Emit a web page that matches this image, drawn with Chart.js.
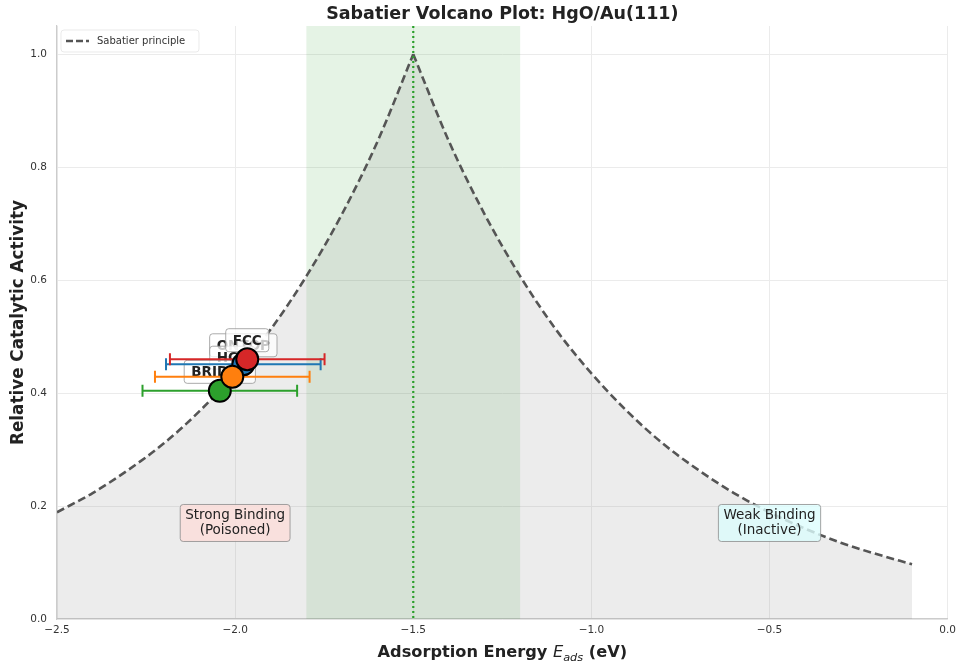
<!DOCTYPE html>
<html>
<head>
<meta charset="utf-8">
<script src="https://cdn.jsdelivr.net/npm/chart.js@4"></script>
<style>
  html, body { margin: 0; padding: 0; background: #fff; }
  canvas { display: block; }
</style>
</head>
<body>
<canvas id="volcano" width="961" height="666"></canvas>
<script>
/* ── data ──────────────────────────────────────────────── */
const energyLeft    = [-2.5, -2.4, -2.3, -2.2, -2.1, -2.0, -1.9, -1.8, -1.7, -1.6, -1.5];
const activityLeft  = [0.189, 0.223, 0.264, 0.311, 0.368, 0.435, 0.513, 0.607, 0.717, 0.846, 1.0];
const energyRight   = [-1.5, -1.4, -1.3, -1.2, -1.1, -1.0, -0.9, -0.8, -0.7, -0.6, -0.5, -0.4, -0.3, -0.2, -0.1];
const activityRight = [1.0, 0.846, 0.717, 0.607, 0.513, 0.435, 0.368, 0.311, 0.264, 0.223, 0.189, 0.160, 0.135, 0.115, 0.097];

const sites        = ['ONTOP', 'HCP', 'BRIDGE', 'FCC'];
const siteEnergy   = [-1.977, -2.008, -2.043, -1.966];
const siteActivity = [0.451, 0.429, 0.404, 0.460];
const siteError    = [0.217, 0.217, 0.217, 0.217];
const siteColors   = ['#1f77b4', '#ff7f0e', '#2ca02c', '#d62728'];
const siteOrder    = [4, 2, 3, 1];          // lower = drawn later (on top)

const optimalRange = [-1.8, -1.2];
const peakEnergy   = -1.5;

const xTicks = [-2.5, -2.0, -1.5, -1.0, -0.5, 0.0];
const yTicks = [0.0, 0.2, 0.4, 0.6, 0.8, 1.0];

const regions = [
  { lines: ['Strong Binding', '(Poisoned)'], x: -2.0, y: 0.17, fill: 'rgba(252,222,218,0.85)' },
  { lines: ['Weak Binding', '(Inactive)'],   x: -0.5, y: 0.17, fill: 'rgba(220,252,252,0.8)' }
];

const FONT = "'DejaVu Sans', sans-serif";
Chart.defaults.font.family = FONT;

const pts = (xs, ys) => xs.map((x, i) => ({ x, y: ys[i] }));
const fmt = v => v.toFixed(1).replace('-', '\u2212');

function roundBox (ctx, x, y, w, h, r, fill, stroke) {
  ctx.beginPath();
  ctx.roundRect(x, y, w, h, r);
  ctx.fillStyle = fill; ctx.fill();
  ctx.strokeStyle = stroke; ctx.lineWidth = 1; ctx.stroke();
}

/* ── extras: band, peak line, labels, error bars, boxes, titles ── */
const extras = {
  id: 'extras',
  beforeDatasetsDraw (chart) {
    const { ctx, chartArea: a, scales: { x } } = chart;
    ctx.save();
    ctx.fillStyle = 'rgba(44,160,44,0.12)';
    const x0 = x.getPixelForValue(optimalRange[0]), x1 = x.getPixelForValue(optimalRange[1]);
    ctx.fillRect(x0, a.top, x1 - x0, a.bottom - a.top);
    ctx.restore();
  },
  afterDatasetDraw (chart, args) {
    if (args.index !== 1) return;
    const { ctx, chartArea: a, scales: { x, y } } = chart;
    ctx.save();
    // optimum line
    const px = x.getPixelForValue(peakEnergy);
    ctx.strokeStyle = '#2ca02c'; ctx.lineWidth = 2.2; ctx.setLineDash([2, 3]);
    ctx.beginPath(); ctx.moveTo(px, a.top); ctx.lineTo(px, a.bottom); ctx.stroke();
    ctx.setLineDash([]);

    // site labels
    ctx.font = `bold 13.5px ${FONT}`;
    ctx.textAlign = 'center'; ctx.textBaseline = 'middle';
    [0, 1, 2, 3].forEach(i => {
      const cx = x.getPixelForValue(siteEnergy[i]);
      const cy = y.getPixelForValue(siteActivity[i]) - 19;
      const w = ctx.measureText(sites[i]).width + 14, h = 23;
      roundBox(ctx, cx - w / 2, cy - h / 2, w, h, 3, 'rgba(255,255,255,0.75)', 'rgba(150,150,150,0.8)');
      ctx.fillStyle = '#222';
      ctx.fillText(sites[i], cx, cy + 1);
    });

    // error bars
    ctx.lineWidth = 2;
    [2, 1, 0, 3].forEach(i => {
      const l = x.getPixelForValue(siteEnergy[i] - siteError[i]);
      const r = x.getPixelForValue(siteEnergy[i] + siteError[i]);
      const py = y.getPixelForValue(siteActivity[i]);
      ctx.strokeStyle = siteColors[i];
      ctx.beginPath();
      ctx.moveTo(l, py); ctx.lineTo(r, py);
      ctx.moveTo(l, py - 6); ctx.lineTo(l, py + 6);
      ctx.moveTo(r, py - 6); ctx.lineTo(r, py + 6);
      ctx.stroke();
    });
    ctx.restore();
  },
  afterDatasetsDraw (chart) {
    const { ctx, scales: { x, y } } = chart;
    ctx.save();
    ctx.font = `13.5px ${FONT}`;
    ctx.textAlign = 'center'; ctx.textBaseline = 'middle';
    regions.forEach(r => {
      const cx = x.getPixelForValue(r.x), cy = y.getPixelForValue(r.y);
      const w = Math.max(...r.lines.map(t => ctx.measureText(t).width)) + 10, h = 37;
      roundBox(ctx, cx - w / 2, cy - h / 2, w, h, 3, r.fill, 'rgba(140,140,140,0.8)');
      ctx.fillStyle = '#222';
      ctx.fillText(r.lines[0], cx, cy - 7.5);
      ctx.fillText(r.lines[1], cx, cy + 8);
    });

    // legend
    roundBox(ctx, 61, 30, 138, 22, 3, 'rgba(255,255,255,0.85)', 'rgba(232,232,232,0.9)');
    ctx.strokeStyle = '#555'; ctx.lineWidth = 2.5; ctx.setLineDash([7, 3]);
    ctx.beginPath(); ctx.moveTo(66, 41); ctx.lineTo(89, 41); ctx.stroke();
    ctx.setLineDash([]);
    ctx.font = `10px ${FONT}`; ctx.textAlign = 'left'; ctx.fillStyle = '#333';
    ctx.fillText('Sabatier principle', 97, 41);
    ctx.restore();
  },
  afterDraw (chart) {
    const { ctx, chartArea: a } = chart;
    const mid = (a.left + a.right) / 2;
    ctx.save();
    ctx.fillStyle = '#222';
    ctx.textBaseline = 'alphabetic';

    ctx.font = `bold 17.5px ${FONT}`; ctx.textAlign = 'center';
    ctx.fillText('Sabatier Volcano Plot: HgO/Au(111)', mid, 18.5);

    // x title with E_ads
    const parts = [
      { t: 'Adsorption Energy ', f: `bold 16.2px ${FONT}`, dy: 0 },
      { t: 'E',                  f: `italic 16.2px ${FONT}`, dy: 0 },
      { t: 'ads',                f: `italic 11.3px ${FONT}`, dy: 3.8 },
      { t: ' (eV)',              f: `bold 16.2px ${FONT}`, dy: 0 }
    ];
    let total = 0;
    parts.forEach(p => { ctx.font = p.f; p.w = ctx.measureText(p.t).width; total += p.w; });
    let cx = mid - total / 2;
    ctx.textAlign = 'left';
    parts.forEach(p => { ctx.font = p.f; ctx.fillText(p.t, cx, 657 + p.dy); cx += p.w; });

    // y title
    ctx.translate(22.5, (a.top + a.bottom) / 2);
    ctx.rotate(-Math.PI / 2);
    ctx.font = `bold 16.8px ${FONT}`; ctx.textAlign = 'center';
    ctx.fillText('Relative Catalytic Activity', 0, 0);
    ctx.restore();
  }
};

/* ── datasets ───────────────────────────────────────────── */
const curveStyle = {
  borderColor: '#555555', borderWidth: 2.6, borderDash: [8, 4],
  fill: 'origin', backgroundColor: 'rgba(128,128,128,0.15)',
  pointRadius: 0, cubicInterpolationMode: 'monotone'
};

const siteSets = sites.map((s, i) => ({
  type: 'scatter', label: s,
  data: [{ x: siteEnergy[i], y: siteActivity[i] }],
  pointRadius: 11, pointHoverRadius: 11,
  backgroundColor: siteColors[i], borderColor: '#000', borderWidth: 2,
  order: siteOrder[i]
}));

new Chart(document.getElementById('volcano'), {
  type: 'line',
  data: {
    datasets: [
      { label: 'Sabatier principle', data: pts(energyLeft, activityLeft), order: 10, ...curveStyle },
      { label: 'Sabatier principle', data: pts(energyRight, activityRight), order: 9, ...curveStyle },
      ...siteSets
    ]
  },
  options: {
    responsive: false, animation: false,
    layout: { padding: { top: 26, right: 13, left: 0, bottom: 0 } },
    plugins: { legend: { display: false }, tooltip: { enabled: false } },
    scales: {
      x: {
        type: 'linear', min: -2.5, max: 0,
        afterBuildTicks: s => { s.ticks = xTicks.map(v => ({ value: v })); },
        afterFit: s => { s.height = 47; },
        ticks: { callback: fmt, color: '#333', font: { size: 10.5 }, padding: 5, maxRotation: 0 },
        grid: { color: '#ebebeb', drawTicks: false },
        border: { color: '#cccccc', width: 1.2 }
      },
      y: {
        min: 0, max: 1.05,
        afterBuildTicks: s => { s.ticks = yTicks.map(v => ({ value: v })); },
        afterFit: s => { s.width = 57; },
        ticks: { callback: fmt, color: '#333', font: { size: 10.5 }, padding: 10 },
        grid: { color: '#ebebeb', drawTicks: false },
        border: { color: '#cccccc', width: 1.2 }
      }
    }
  },
  plugins: [extras]
});
</script>
</body>
</html>
